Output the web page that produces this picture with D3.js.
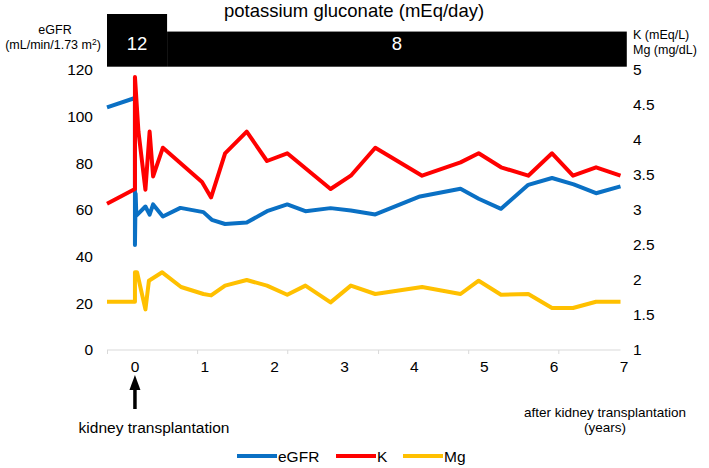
<!DOCTYPE html>
<html><head><meta charset="utf-8">
<script src="https://cdn.jsdelivr.net/npm/d3@7"></script>
<style>body{margin:0;background:#fff}svg{display:block}text{font-family:"Liberation Sans",Arial,sans-serif}</style>
</head><body><svg id="c" width="709" height="468"></svg>
<script>
// ---- data ----
const egfrYears = [-0.4, 0, 0, 0.01, 0.02, 0.15, 0.21, 0.26, 0.40, 0.65, 0.98, 1.10, 1.29, 1.60, 1.89, 2.18, 2.44, 2.80, 3.09, 3.44, 4.08, 4.66, 4.92, 5.24, 5.63, 5.97, 6.28, 6.60, 6.95];
const egfrValues = [104, 108, 45, 67, 57.6, 61.5, 58, 62.4, 57.2, 60.9, 59.1, 55.8, 54, 54.6, 59.5, 62.4, 59.5, 60.8, 59.8, 58.1, 65.8, 69.1, 64.8, 60.5, 70.8, 73.7, 71, 67.2, 70.1];
const kYears = [-0.4, 0, 0, 0.05, 0.15, 0.21, 0.26, 0.40, 0.96, 1.09, 1.29, 1.60, 1.89, 2.18, 2.80, 3.09, 3.44, 4.11, 4.66, 4.92, 5.24, 5.63, 5.97, 6.27, 6.60, 6.95];
const kValues = [3.09, 3.30, 4.90, 4.12, 3.29, 4.12, 3.48, 3.89, 3.40, 3.18, 3.81, 4.12, 3.70, 3.81, 3.30, 3.49, 3.89, 3.49, 3.68, 3.81, 3.61, 3.49, 3.81, 3.49, 3.61, 3.49];
const mgYears = [-0.4, 0, 0, 0.03, 0.15, 0.20, 0.39, 0.66, 0.98, 1.09, 1.29, 1.60, 1.89, 2.18, 2.44, 2.80, 3.09, 3.44, 4.11, 4.66, 4.92, 5.24, 5.63, 5.97, 6.27, 6.60, 6.95];
const mgValues = [1.69, 1.69, 2.11, 2.11, 1.58, 1.99, 2.11, 1.90, 1.80, 1.78, 1.92, 2.00, 1.92, 1.79, 1.92, 1.68, 1.92, 1.80, 1.90, 1.80, 1.99, 1.79, 1.80, 1.60, 1.60, 1.69, 1.69];
const doseStart = [-0.4, 0.46];
const doseEnd = [0.46, 7.04];
const doseValues = [12, 8];
const yearLabels = [0, 1, 2, 3, 4, 5, 6, 7];
const axisTickYears = [-0.4, 0.89, 2.18, 3.48, 4.77, 6.06];
const leftTicks = [0, 20, 40, 60, 80, 100, 120];
const rightTicks = [1, 1.5, 2, 2.5, 3, 3.5, 4, 4.5, 5];
const seriesNames = ["eGFR", "K", "Mg"];
const colors = ["#0a70c4", "#ff0000", "#ffc000"];

// ---- scales ----
const x = d3.scaleLinear().domain([-0.4, 6.95]).range([107, 620.5]);
const yL = d3.scaleLinear().domain([0, 120]).range([350, 70]);
const yR = d3.scaleLinear().domain([1, 5]).range([350, 70]);
const yDose = d3.scaleLinear().domain([0, 12]).range([66.7, 14]);

const svg = d3.select("#c");

// title
svg.append("text").attr("x", 354).attr("y", 17).attr("text-anchor", "middle")
  .attr("font-size", 18.5).text("potassium gluconate (mEq/day)");

// dose bars
const doses = doseValues.map((v, i) => ({v, s: doseStart[i], e: doseEnd[i]}));
svg.selectAll("rect.dose").data(doses).join("rect").attr("class", "dose")
  .attr("x", d => x(d.s)).attr("width", d => x(d.e) - x(d.s))
  .attr("y", d => yDose(d.v)).attr("height", d => yDose(0) - yDose(d.v)).attr("fill", "#000");
svg.selectAll("text.dose").data(doses).join("text").attr("class", "dose")
  .attr("x", d => (x(d.s) + x(d.e)) / 2).attr("y", 49.5).attr("text-anchor", "middle")
  .attr("fill", "#fff").attr("font-size", 18.5).text(d => d.v);

// axis titles
svg.append("text").attr("x", 55).attr("y", 33.5).attr("text-anchor", "middle").attr("font-size", 12.5).text("eGFR");
const t2 = svg.append("text").attr("x", 53).attr("y", 48.5).attr("text-anchor", "middle").attr("font-size", 12.5);
t2.append("tspan").text("(mL/min/1.73 m");
t2.append("tspan").attr("font-size", 8.5).attr("dy", -4).text("2");
t2.append("tspan").attr("dy", 4).text(")");
svg.append("text").attr("x", 633).attr("y", 38.5).attr("font-size", 12.5).text("K (mEq/L)");
svg.append("text").attr("x", 633).attr("y", 53.5).attr("font-size", 12.5).text("Mg (mg/dL)");

// left axis labels
const axL = d3.axisLeft(yL).tickValues(leftTicks).tickSize(0).tickPadding(0);
const gL = svg.append("g").attr("transform", "translate(93,0)").call(axL);
gL.select(".domain").remove();
gL.selectAll("text").attr("font-size", 15.5).attr("font-family", "Liberation Sans, Arial").attr("fill", "#000");

// right axis labels
const axR = d3.axisRight(yR).tickValues(rightTicks).tickSize(0).tickPadding(0).tickFormat(d3.format("~g"));
const gR = svg.append("g").attr("transform", "translate(633,0)").call(axR);
gR.select(".domain").remove();
gR.selectAll("text").attr("font-size", 15.5).attr("font-family", "Liberation Sans, Arial").attr("fill", "#000");

// x axis line with category ticks
const axB = d3.axisBottom(x).tickValues(axisTickYears).tickSize(4).tickFormat("");
const gB = svg.append("g").attr("transform", `translate(0,${yL(0)})`).call(axB);
gB.select(".domain").attr("stroke", "#d9d9d9").attr("d", `M${x(-0.4)},0H${x(6.95)}`);
gB.selectAll(".tick line").attr("stroke", "#d9d9d9");

// year labels
svg.selectAll("text.yr").data(yearLabels).join("text").attr("class", "yr")
  .attr("x", d => x(d)).attr("y", 371.5).attr("text-anchor", "middle").attr("font-size", 15.5).text(d => d);

// lines
const line = d3.line().x(d => x(d[0])).y(d => d[1]);
const series = [
  egfrYears.map((t, i) => [t, yL(egfrValues[i])]),
  kYears.map((t, i) => [t, yR(kValues[i])]),
  mgYears.map((t, i) => [t, yR(mgValues[i])])
];
svg.selectAll("path.s").data(series).join("path").attr("class", "s")
  .attr("d", line).attr("fill", "none").attr("stroke", (d, i) => colors[i])
  .attr("stroke-width", 4).attr("stroke-linejoin", "round");

// arrow
const ax0 = x(0);
svg.append("line").attr("x1", ax0).attr("x2", ax0).attr("y1", 409).attr("y2", 386).attr("stroke", "#000").attr("stroke-width", 3.5);
svg.append("path").attr("d", `M${ax0},375L${ax0 + 5.5},390L${ax0 - 5.5},390Z`).attr("fill", "#000");
svg.append("text").attr("x", 154).attr("y", 432.5).attr("text-anchor", "middle").attr("font-size", 15.5).text("kidney transplantation");

svg.append("text").attr("x", 605).attr("y", 416.5).attr("text-anchor", "middle").attr("font-size", 13.5).text("after kidney transplantation");
svg.append("text").attr("x", 605).attr("y", 431.5).attr("text-anchor", "middle").attr("font-size", 13.5).text("(years)");

// legend
const legX = [237, 336, 403];
const lg = svg.selectAll("g.leg").data(seriesNames).join("g").attr("class", "leg")
  .attr("transform", (d, i) => `translate(${legX[i]},456)`);
lg.append("line").attr("x1", 0).attr("x2", 40).attr("stroke", (d, i) => colors[i]).attr("stroke-width", 4);
lg.append("text").attr("x", 41).attr("y", 5.5).attr("font-size", 15.5).text(d => d);
</script></body></html>
